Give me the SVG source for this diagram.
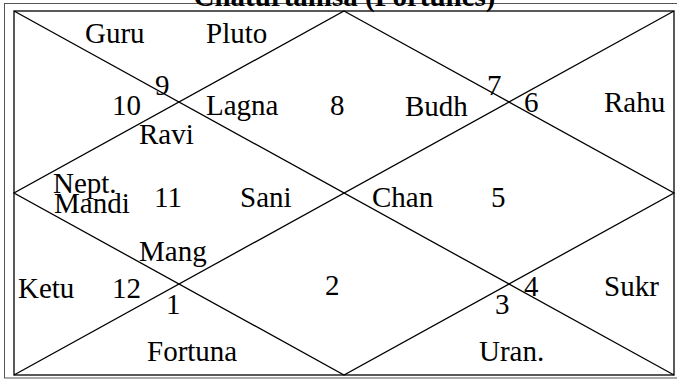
<svg xmlns="http://www.w3.org/2000/svg" width="677" height="379" viewBox="0 0 677 379">
<style>
text{font-family:"Liberation Serif","Times New Roman",serif;font-size:29px;fill:#000}
.title{font-weight:bold;text-anchor:middle}
.ln{stroke:#000;stroke-width:1.3;fill:none}
.outer{stroke:#555;stroke-width:1;fill:none}
</style>
<rect width="677" height="379" fill="#fff"/>
<rect class="outer" x="4.5" y="3.5" width="680" height="374.5"/>
<text class="title" x="344.5" y="6">Chaturtamsa (Fortunes)</text>
<g id="connectors">
<rect class="ln" x="14" y="11" width="660" height="364"/>
<line class="ln" x1="14" y1="11" x2="674" y2="375"/>
<line class="ln" x1="674" y1="11" x2="14" y2="375"/>
<polygon class="ln" points="344,11 674,193 344,375 14,193"/>
</g>
<g id="house9"><text x="85" y="43">Guru</text><text x="206" y="43">Pluto</text><text x="155" y="95">9</text></g>
<g id="house10"><text x="112" y="115">10</text><text x="139" y="144">Ravi</text></g>
<g id="house8"><text x="206" y="115">Lagna</text><text x="330" y="115">8</text></g>
<g id="house7"><text x="405" y="116">Budh</text><text x="487" y="95">7</text></g>
<g id="house6"><text x="524" y="112">6</text><text x="604" y="112">Rahu</text></g>
<g id="house11"><text x="53" y="193">Nept.</text><text x="54" y="213">Mandi</text><text x="154" y="207">11</text><text x="240" y="207">Sani</text></g>
<g id="house5"><text x="372" y="207">Chan</text><text x="491" y="207">5</text></g>
<g id="house12"><text x="139" y="261">Mang</text><text x="18" y="298">Ketu</text><text x="112" y="298">12</text></g>
<g id="house1"><text x="166" y="314">1</text><text x="147" y="361">Fortuna</text></g>
<g id="house2"><text x="325" y="295">2</text></g>
<g id="house4"><text x="524" y="296">4</text><text x="604" y="296">Sukr</text></g>
<g id="house3"><text x="495" y="314">3</text><text x="479" y="361">Uran.</text></g>
</svg>
